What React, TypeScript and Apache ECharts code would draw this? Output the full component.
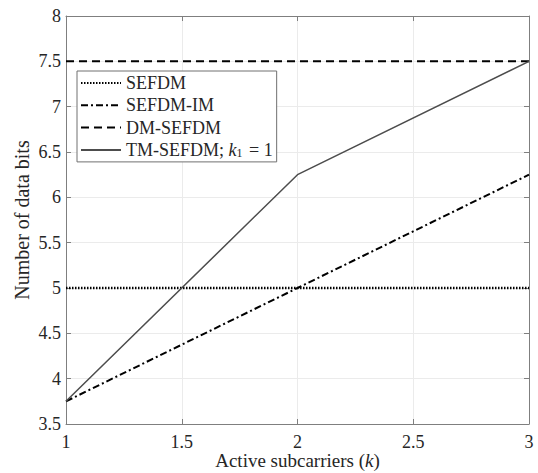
import React, { useEffect, useRef } from "react";
import * as echarts from "echarts";

const kValues = [1, 2, 3];
const sefdm = [5, 5, 5];
const sefdmIm = [3.75, 5, 6.25];
const dmSefdm = [7.5, 7.5, 7.5];
const tmSefdm = [3.75, 6.25, 7.5];
const seriesNames = ["SEFDM", "SEFDM-IM", "DM-SEFDM", "TM-SEFDM; k1 = 1"];

const FONT = "Liberation Serif";
const TXT = "#262626";
const AX = "#7f7f7f";

const pairs = (ys: number[]) => kValues.map((k, i) => [k, ys[i]]);

export default function App() {
  const ref = useRef<HTMLDivElement>(null);
  useEffect(() => {
    if (!ref.current) return;
    const chart = echarts.init(ref.current, undefined, { renderer: "svg" });
    const axisCommon = {
      axisLine: { show: true, lineStyle: { color: AX, width: 1 } },
      axisTick: { show: true, inside: true, length: 5, lineStyle: { color: AX } },
    };
    chart.setOption({
      animation: false,
      backgroundColor: "#fff",
      textStyle: { fontFamily: FONT },
      grid: {
        left: 66,
        right: 9,
        top: 16,
        bottom: 49,
        containLabel: false,
        outerBoundsMode: "none",
      },
      xAxis: [
        {
          type: "value",
          min: 1,
          max: 3,
          interval: 0.5,
          ...axisCommon,
          splitLine: { show: true, lineStyle: { color: "#ebebeb", width: 1 } },
          axisLabel: { color: TXT, fontFamily: FONT, fontSize: 18, margin: 9 },
          name: "{a|Active subcarriers (}{i|k}{a|)}",
          nameLocation: "middle",
          nameGap: 36,
          nameMoveOverlap: false,
          nameTextStyle: {
            verticalAlign: "middle",
            rich: {
              a: { fontFamily: FONT, fontSize: 19, lineHeight: 19, color: TXT },
              i: { fontFamily: FONT, fontSize: 19, lineHeight: 19, color: TXT, fontStyle: "italic" },
            },
          },
        },
        {
          type: "value",
          position: "top",
          min: 1,
          max: 3,
          interval: 0.5,
          ...axisCommon,
          splitLine: { show: false },
          axisLabel: { show: false },
        },
      ],
      yAxis: [
        {
          type: "value",
          min: 3.5,
          max: 8,
          interval: 0.5,
          ...axisCommon,
          splitLine: { show: true, lineStyle: { color: "#ebebeb", width: 1 } },
          axisLabel: { color: TXT, fontFamily: FONT, fontSize: 18, margin: 5 },
          name: "Number of data bits",
          nameLocation: "middle",
          nameGap: 44,
          nameMoveOverlap: false,
          nameTextStyle: { fontFamily: FONT, fontSize: 20, color: TXT, verticalAlign: "middle" },
        },
        {
          type: "value",
          position: "right",
          min: 3.5,
          max: 8,
          interval: 0.5,
          ...axisCommon,
          splitLine: { show: false },
          axisLabel: { show: false },
        },
      ],
      legend: {
        orient: "vertical",
        left: 77,
        top: 71,
        itemWidth: 40,
        itemHeight: 14,
        itemGap: 4.3,
        padding: [3, 4, 3, 3],
        borderColor: "#707070",
        borderWidth: 1,
        backgroundColor: "#fff",
        itemStyle: { opacity: 0 },
        data: seriesNames,
        formatter: (name: string) =>
          name === seriesNames[3]
            ? "{a|TM-SEFDM; }{i|k}{s|1}{a| = 1}"
            : "{a|" + name + "}",
        textStyle: {
          fontFamily: FONT,
          rich: {
            a: { fontFamily: FONT, fontSize: 18, lineHeight: 18, color: TXT },
            i: { fontFamily: FONT, fontSize: 18, lineHeight: 18, color: TXT, fontStyle: "italic" },
            s: { fontFamily: FONT, fontSize: 12, lineHeight: 12, color: TXT, verticalAlign: "bottom", padding: [4, 2, 0, 0] },
          },
        },
      },
      series: [
        {
          name: seriesNames[0],
          type: "line",
          data: pairs(sefdm),
          symbol: "none",
          lineStyle: { color: "#000", width: 2.5, type: [1.5, 1.5] },
          itemStyle: { color: "#000" },
        },
        {
          name: seriesNames[1],
          type: "line",
          data: pairs(sefdmIm),
          symbol: "none",
          lineStyle: { color: "#000", width: 2, type: [7, 3, 2, 3] },
          itemStyle: { color: "#000" },
        },
        {
          name: seriesNames[2],
          type: "line",
          data: pairs(dmSefdm),
          symbol: "none",
          lineStyle: { color: "#000", width: 2, type: [8, 5] },
          itemStyle: { color: "#000" },
        },
        {
          name: seriesNames[3],
          type: "line",
          data: pairs(tmSefdm),
          symbol: "none",
          lineStyle: { color: "#4d4d4d", width: 1.5, type: "solid" },
          itemStyle: { color: "#4d4d4d" },
        },
      ],
    });
    return () => chart.dispose();
  }, []);
  return (
    <div
      ref={ref}
      style={{ position: "fixed", left: 0, top: 0, width: 538, height: 473 }}
    />
  );
}
